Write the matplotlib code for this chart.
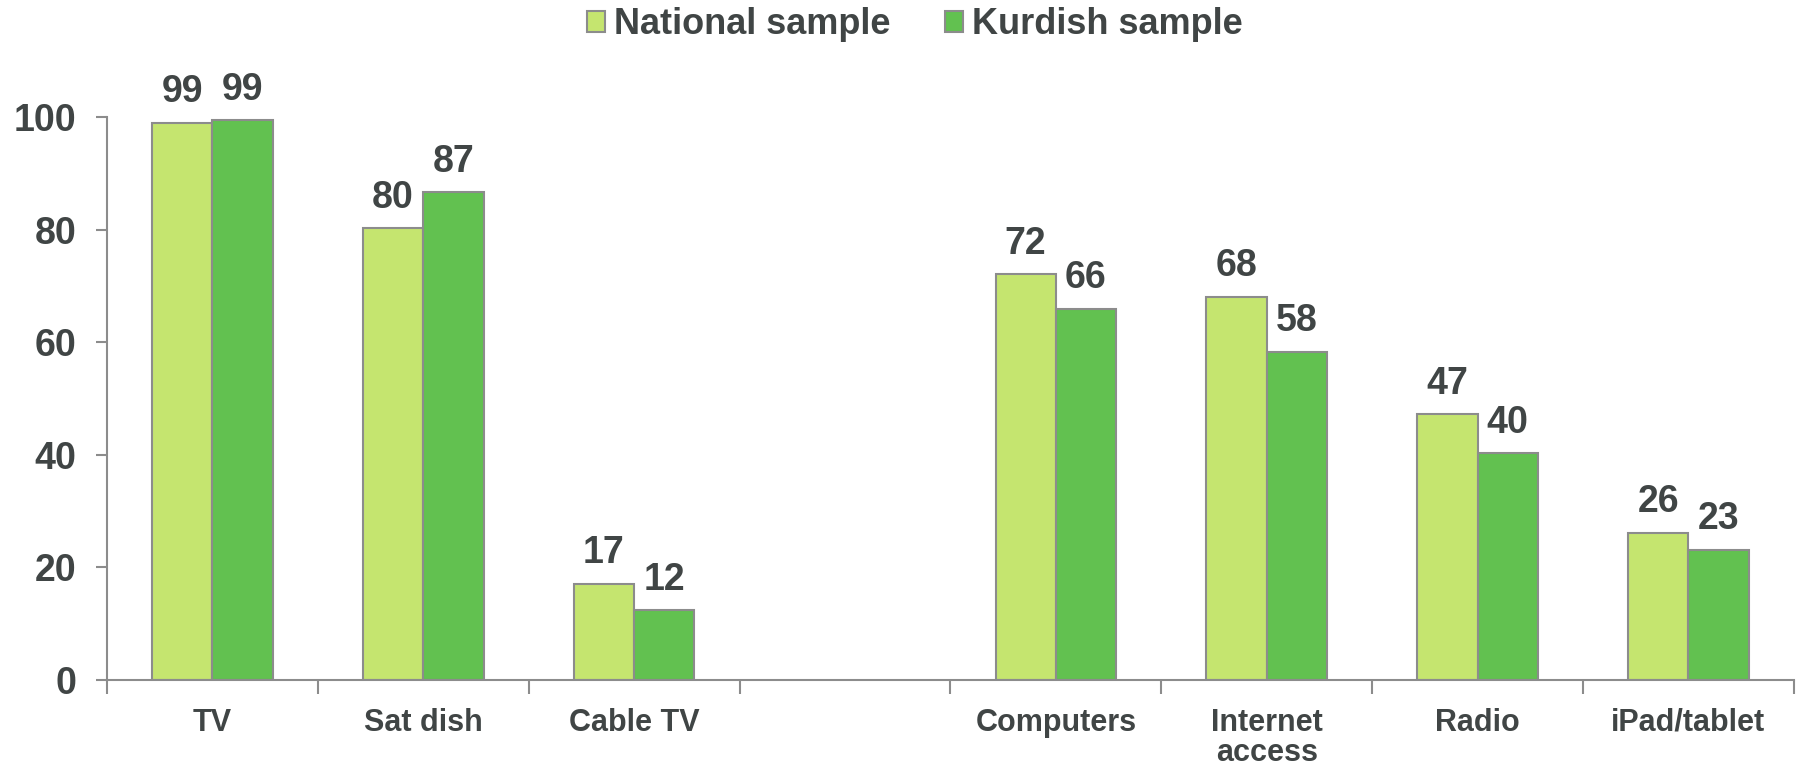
import numpy as np
import matplotlib
matplotlib.use("Agg")
import matplotlib.pyplot as plt

categories = ["TV", "Sat dish", "Cable TV", "", "Computers", "Internet\naccess", "Radio", "iPad/tablet"]
national = [99.0, 80.2, 17.1, np.nan, 72.1, 68.1, 47.2, 26.2]
kurdish = [99.4, 86.6, 12.4, np.nan, 65.9, 58.3, 40.3, 23.1]
series_names = ["National sample", "Kurdish sample"]
yticks = [0, 20, 40, 60, 80, 100]

c_nat = "#C5E56F"
c_kur = "#62C150"
edge = "#8C8C8C"
txt = "#404545"

plt.rcParams['font.family'] = ['Liberation Sans', 'DejaVu Sans']
plt.rcParams['font.weight'] = 'bold'

fig = plt.figure(figsize=(18.01, 7.67), dpi=100)
ax = fig.add_axes([0.0594, 0.1134, 0.9366, 0.7341])

x = np.arange(len(categories))
w = 0.286
b1 = ax.bar(x - w/2, national, w, color=c_nat, edgecolor=edge, linewidth=1.5, label=series_names[0])
b2 = ax.bar(x + w/2, kurdish, w, color=c_kur, edgecolor=edge, linewidth=1.5, label=series_names[1])

for bars, vals in ((b1, national), (b2, kurdish)):
    for rect, v in zip(bars, vals):
        if np.isnan(v):
            continue
        ax.annotate(f"{v:.0f}", (rect.get_x() + rect.get_width()/2, v),
                    xytext=(0, 9), textcoords="offset points",
                    ha="center", va="bottom", fontsize=27, fontweight="bold",
                    color=txt, annotation_clip=False)

ax.set_xlim(-0.5, len(categories) - 0.5)
ax.set_ylim(0, 100)
ax.set_yticks(yticks)
ax.set_yticklabels([str(t) for t in yticks], fontsize=27, fontweight="bold", color=txt)
ax.set_xticks(x)
ax.set_xticklabels(categories, fontsize=22, fontweight="bold", color=txt, va="top", linespacing=1.0)
ax.set_xticks(np.arange(len(categories) + 1) - 0.5, minor=True)
ax.tick_params(axis="x", which="major", length=0, pad=20)
ax.tick_params(axis="x", which="minor", length=10, width=1.5, color=edge, direction="out")
ax.tick_params(axis="y", length=8, width=1.5, color=edge, direction="out", pad=14)

for s in ("top", "right"):
    ax.spines[s].set_visible(False)
for s in ("left", "bottom"):
    ax.spines[s].set_color(edge)
    ax.spines[s].set_linewidth(1.5)

leg = fig.legend(handles=[b1, b2], labels=series_names, loc="center", bbox_to_anchor=(0.508, 0.968),
                 ncol=2, frameon=False, prop={"size": 26, "weight": "bold"},
                 handlelength=0.5, handleheight=0.5, handletextpad=0.25, columnspacing=1.5)
for t in leg.get_texts():
    t.set_color(txt)

fig.savefig("out.png", dpi=100)
